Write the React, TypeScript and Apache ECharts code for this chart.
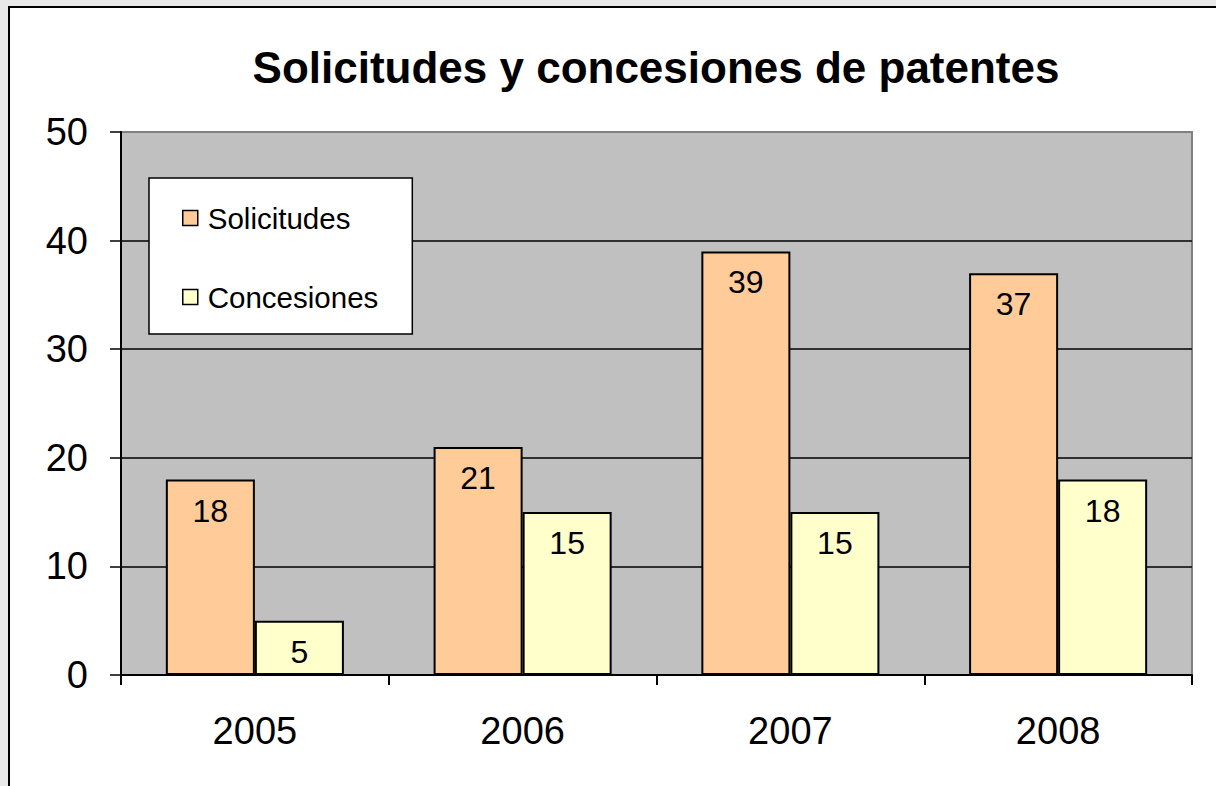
import React, { useEffect, useRef } from "react";
import * as echarts from "echarts";

const titleText = "Solicitudes y concesiones de patentes";
const years = ["2005", "2006", "2007", "2008"];
const solicitudes = [18, 21, 39, 37];
const concesiones = [5, 15, 15, 18];
const seriesNames = ["Solicitudes", "Concesiones"];

export default function App() {
  const ref = useRef<HTMLDivElement>(null);
  useEffect(() => {
    if (!ref.current) return;
    const chart = echarts.init(ref.current, null, { renderer: "svg" });
    const font = "Liberation Sans, Arial, sans-serif";
    const labelCfg = {
      show: true,
      position: "insideTop",
      distance: 15,
      color: "#000",
      fontSize: 32,
      fontFamily: font,
    };
    chart.setOption({
      animation: false,
      title: {
        text: titleText,
        left: 651,
        textAlign: "center",
        top: 40,
        textStyle: { fontSize: 44, fontWeight: "bold", color: "#000", fontFamily: font },
      },
      legend: {
        orient: "vertical",
        left: 149,
        top: 178,
        padding: [25, 34, 22, 33],
        itemGap: 49,
        itemWidth: 15,
        itemHeight: 15,
        icon: "rect",
        backgroundColor: "#fff",
        borderColor: "#000",
        borderWidth: 1.5,
        itemStyle: { borderColor: "#000", borderWidth: 1.5 },
        textStyle: { fontSize: 29.5, color: "#000", fontFamily: font, padding: [0, 0, 0, 5] },
        data: seriesNames,
      },
      grid: {
        left: 121,
        top: 132,
        right: 24,
        bottom: 111,
        show: true,
        backgroundColor: "#c0c0c0",
        borderColor: "#808080",
        borderWidth: 2,
      },
      xAxis: {
        type: "category",
        data: years,
        axisLine: { lineStyle: { color: "#000", width: 2 } },
        axisTick: { show: true, length: 10, lineStyle: { color: "#000", width: 2 } },
        axisLabel: { fontSize: 38, color: "#000", fontFamily: font, margin: 37 },
      },
      yAxis: {
        type: "value",
        min: 0,
        max: 50,
        interval: 10,
        axisLine: { show: true, lineStyle: { color: "#000", width: 2 } },
        axisTick: { show: true, length: 11, lineStyle: { color: "#000", width: 1.5 } },
        axisLabel: { fontSize: 38, color: "#000", fontFamily: font, margin: 33 },
        splitLine: { show: true, showMinLine: false, showMaxLine: false, lineStyle: { color: "#000", width: 1.5 } },
      },
      series: [
        {
          name: seriesNames[0],
          type: "bar",
          data: solicitudes,
          barGap: "0%",
          barCategoryGap: "33.5%",
          itemStyle: { color: "#ffcc99", borderColor: "#000", borderWidth: 2 },
          label: labelCfg,
        },
        {
          name: seriesNames[1],
          type: "bar",
          data: concesiones,
          barGap: "0%",
          barCategoryGap: "33.5%",
          itemStyle: { color: "#ffffcc", borderColor: "#000", borderWidth: 2 },
          label: labelCfg,
        },
      ],
    });
    return () => chart.dispose();
  }, []);

  return (
    <div style={{ position: "fixed", left: 0, top: 0, width: 1216, height: 786, overflow: "hidden", background: "#e9e9e9" }}>
      <div style={{ position: "absolute", left: 8, top: 6, width: 1400, height: 1000, background: "#fff", borderLeft: "2px solid #000", borderTop: "2px solid #000" }} />
      <div ref={ref} style={{ position: "absolute", left: 0, top: 0, width: 1216, height: 786 }} />
    </div>
  );
}
